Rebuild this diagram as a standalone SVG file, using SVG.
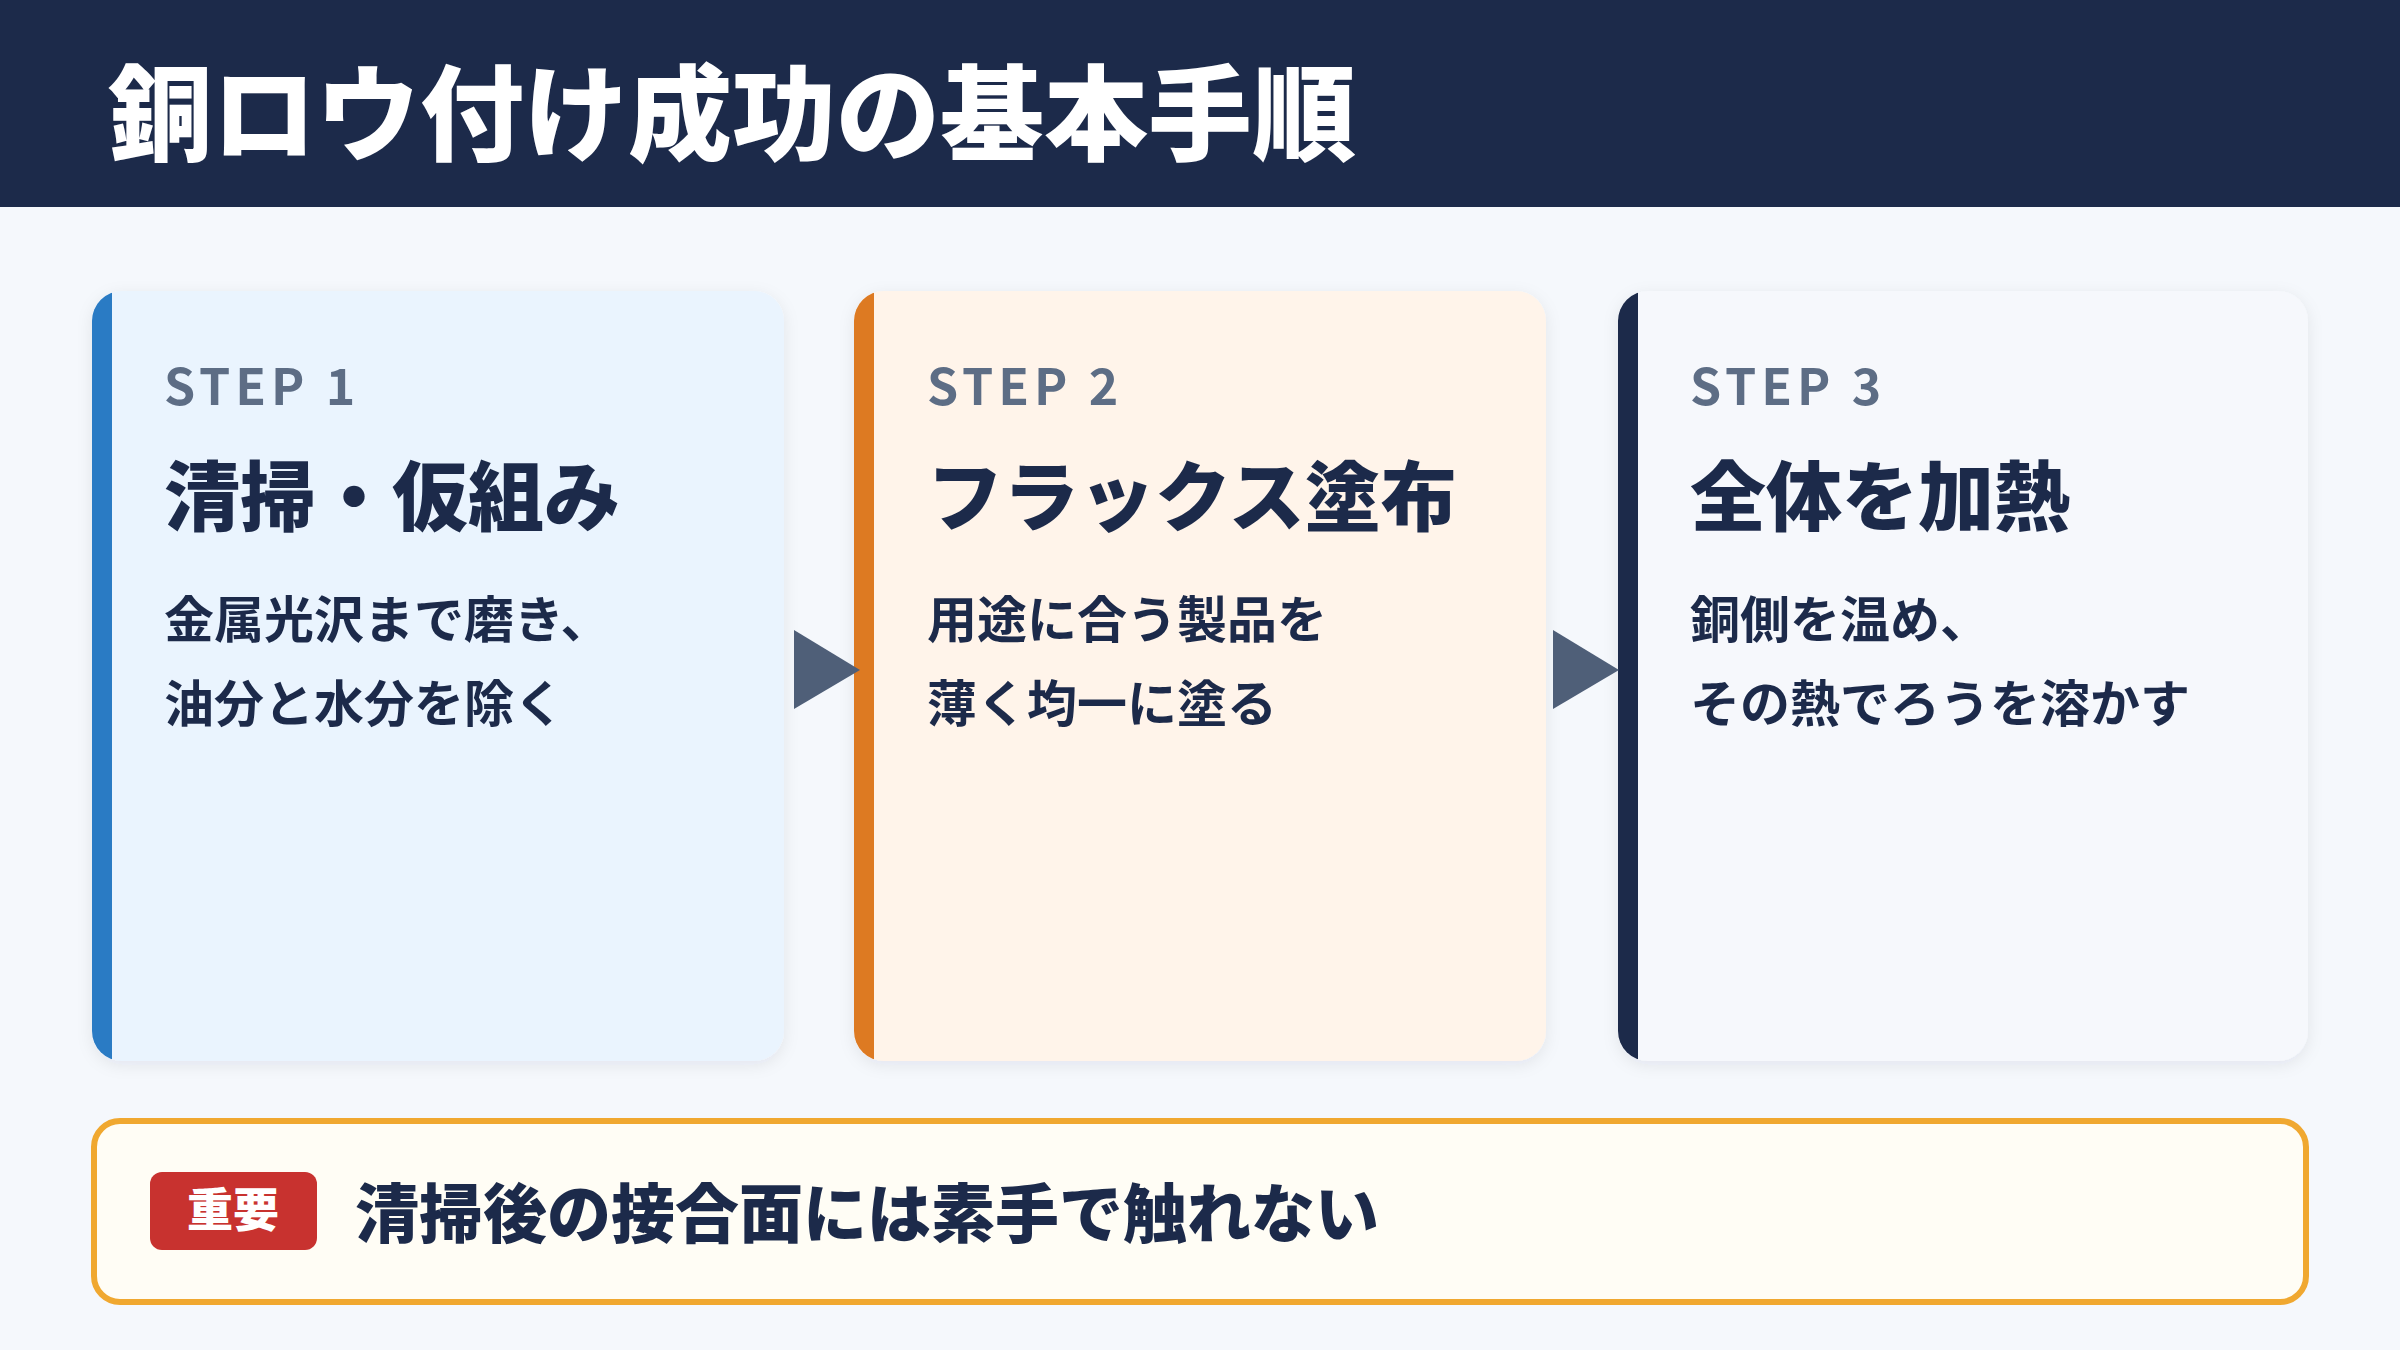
<svg xmlns="http://www.w3.org/2000/svg" width="2400" height="1350" viewBox="0 0 2400 1350">
<defs>
<filter id="sh" x="-10%" y="-10%" width="120%" height="120%"><feDropShadow dx="0" dy="4" stdDeviation="8" flood-color="#1c2a4a" flood-opacity="0.08"/></filter>
<clipPath id="c1"><rect x="92" y="291" width="692" height="770" rx="30"/></clipPath>
<clipPath id="c2"><rect x="854" y="291" width="692" height="770" rx="30"/></clipPath>
<clipPath id="c3"><rect x="1618" y="291" width="690" height="770" rx="30"/></clipPath>
</defs>
<style>
text{font-family:"Noto Sans CJK JP","Noto Sans",sans-serif}
.step{font-size:50px;font-weight:700;fill:#5d6d85;letter-spacing:5px}
.title{font-size:76px;font-weight:900;fill:#1c2a4a}
.body{font-size:50px;font-weight:700;fill:#1c2a4a}
.arrow{fill:#4f5f78}
</style>
<rect width="2400" height="1350" fill="#f5f8fc"/>
<rect width="2400" height="207" fill="#1c2a4a"/>
<text x="108" y="153" font-size="104" font-weight="900" fill="#ffffff">銅ロウ付け成功の基本手順</text>
<g id="step1">
<rect x="92" y="291" width="692" height="770" rx="30" fill="#eaf4fe" filter="url(#sh)"/>
<rect x="92" y="291" width="20" height="770" fill="#2a7bc4" clip-path="url(#c1)"/>
<text x="164" y="405" class="step">STEP 1</text>
<text x="164" y="525" class="title">清掃・仮組み</text>
<text x="164" y="638" class="body">金属光沢まで磨き、</text>
<text x="164" y="722" class="body">油分と水分を除く</text>
</g>
<g id="step2">
<rect x="854" y="291" width="692" height="770" rx="30" fill="#fff4ea" filter="url(#sh)"/>
<rect x="854" y="291" width="20" height="770" fill="#dd7a22" clip-path="url(#c2)"/>
<text x="927" y="405" class="step">STEP 2</text>
<text x="927" y="525" class="title">フラックス塗布</text>
<text x="927" y="638" class="body">用途に合う製品を</text>
<text x="927" y="722" class="body">薄く均一に塗る</text>
</g>
<g id="step3">
<rect x="1618" y="291" width="690" height="770" rx="30" fill="#f6f8fc" filter="url(#sh)"/>
<rect x="1618" y="291" width="20" height="770" fill="#1c2a4a" clip-path="url(#c3)"/>
<text x="1690" y="405" class="step">STEP 3</text>
<text x="1690" y="525" class="title">全体を加熱</text>
<text x="1690" y="638" class="body">銅側を温め、</text>
<text x="1690" y="722" class="body">その熱でろうを溶かす</text>
</g>
<g id="connectors">
<polygon class="arrow" points="794,630 860,670 794,709"/>
<polygon class="arrow" points="1553,630 1619,670 1553,709"/>
</g>
<g id="note">
<rect x="94" y="1121" width="2212" height="181" rx="26" fill="#fffdf5" stroke="#f0a830" stroke-width="6"/>
<rect x="150" y="1172" width="167" height="78" rx="12" fill="#c8322f"/>
<text x="233" y="1226" font-size="46" font-weight="900" fill="#ffffff" text-anchor="middle">重要</text>
<text x="355" y="1237" font-size="64" font-weight="900" fill="#1c2a4a">清掃後の接合面には素手で触れない</text>
</g>
</svg>
